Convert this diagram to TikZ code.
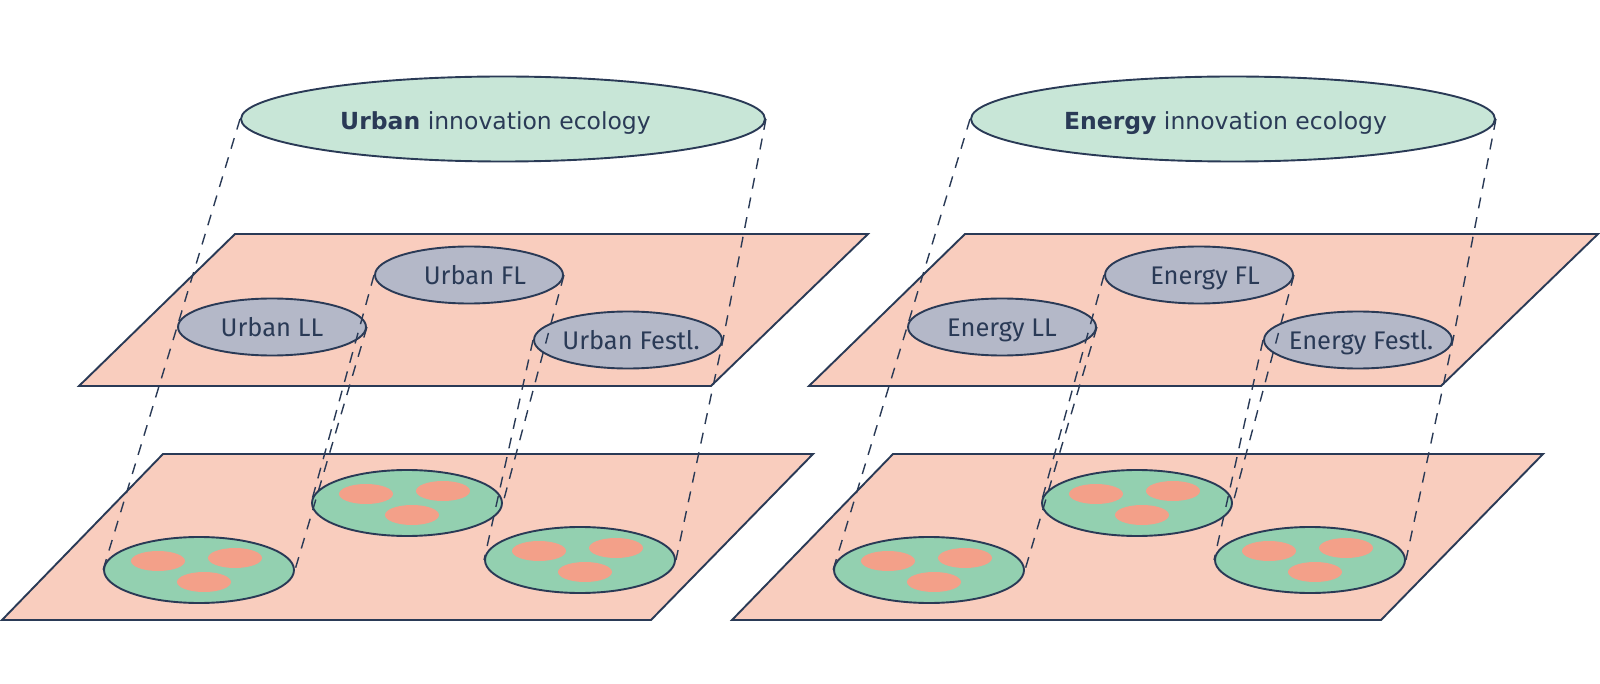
\documentclass[tikz,border=0pt]{standalone}
\usepackage{fontspec}
\setmainfont{Fira Sans}
\newfontfamily\topfont{DejaVu Sans}
\usetikzlibrary{shapes.geometric}
\definecolor{navy}{RGB}{42,58,86}
\definecolor{mint}{RGB}{200,230,215}
\definecolor{planec}{RGB}{249,205,190}
\definecolor{greyc}{RGB}{180,184,200}
\definecolor{greenc}{RGB}{147,208,176}
\definecolor{blobc}{RGB}{243,160,137}
\newcommand\placetext[3]{\makebox[0pt]{\hspace*{#1}\smash{\raisebox{#2}{#3}}}}
\tikzset{
  edge/.style={draw=navy, line width=1.9pt},
  planeshape/.style={edge, fill=planec, line join=miter},
  topell/.style={ellipse, edge, fill=mint, minimum width=524pt, minimum height=85pt, inner sep=0pt, text=navy, font=\topfont\fontsize{23.5}{27}\selectfont},
  midell/.style={ellipse, edge, fill=greyc, minimum width=188pt, minimum height=57pt, inner sep=0pt, text=navy, font=\fontsize{25.5}{29}\selectfont},
  greenell/.style={ellipse, edge, fill=greenc, minimum width=190pt, minimum height=66pt, inner sep=0pt},
  blob/.style={ellipse, fill=blobc, minimum width=54pt, minimum height=20pt, inner sep=0pt},
  dline/.style={draw=navy, line width=1.4pt, dash pattern=on 11pt off 9pt},
}
\newcommand\ecogroup[2]{%
\begin{scope}[xshift=#2pt]
  \draw[planeshape] (235,234) -- (868,234) -- (711,386) -- (79,386) -- cycle;
  \draw[planeshape] (163,454) -- (813,454) -- (651,620) -- (2,620) -- cycle;
  \node[topell] (#1top) at (503,119) {\placetext{-15pt}{-10.5pt}{\textbf{#1} innovation ecology}};
  \node[midell] (#1FL) at (469,275) {\placetext{12pt}{-9.3pt}{#1 FL}};
  \node[midell] (#1LL) at (272,327) {\placetext{0pt}{-9.3pt}{#1 LL}};
  \node[midell] (#1FE) at (628,340) {\placetext{6pt}{-9.3pt}{#1 Festl.}};
  \node[greenell] (#1gL) at (199,570) {};
  \node[greenell] (#1gM) at (407,503) {};
  \node[greenell] (#1gR) at (580,560) {};
  \foreach \g in {gL,gM,gR}{
    \node[blob] (#1\g a) at ([shift={(-41,-9)}]#1\g.center) {};
    \node[blob] (#1\g b) at ([shift={(36,-12)}]#1\g.center) {};
    \node[blob] (#1\g c) at ([shift={(5,12)}]#1\g.center) {};
  }
  \draw[dline] (#1top.west) -- (#1LL.west) -- (#1gL.west);
  \draw[dline] (#1LL.east) -- (#1gL.east);
  \draw[dline] (#1FL.west) -- (#1gM.west);
  \draw[dline] (#1FL.east) -- (#1gM.east);
  \draw[dline] (#1FE.west) -- (#1gR.west);
  \draw[dline] (#1top.east) -- (#1FE.east) -- (#1gR.east);
\end{scope}}
\begin{document}
\begin{tikzpicture}[x=1pt,y=-1pt]
  \useasboundingbox (0,0) rectangle (1600,684);
  \ecogroup{Urban}{0}
  \ecogroup{Energy}{730}
\end{tikzpicture}
\end{document}
